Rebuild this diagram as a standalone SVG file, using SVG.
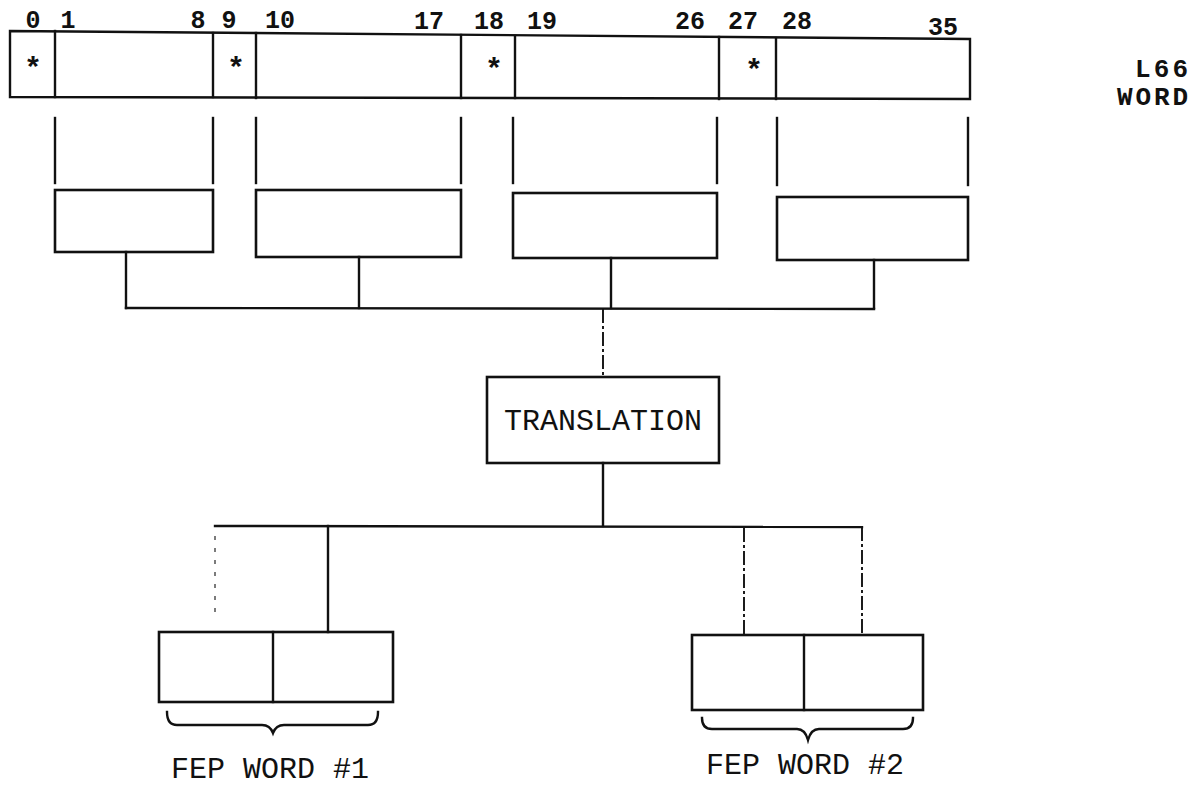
<svg xmlns="http://www.w3.org/2000/svg" width="1195" height="791" viewBox="0 0 1195 791">
<style>
.ln{stroke:#111;stroke-width:2.4;fill:none;stroke-linecap:square}
.bx{stroke:#111;stroke-width:2.6;fill:#fff}
.dash{stroke:#111;stroke-width:1.9;fill:none;stroke-dasharray:14 3 3 3}
.dot{stroke:#444;stroke-width:1.4;fill:none;stroke-dasharray:4 8}
.num{font-family:"Liberation Mono","Courier New",monospace;font-size:25px;font-weight:bold;fill:#111}
.lbl{font-family:"Liberation Mono","Courier New",monospace;font-size:30px;fill:#111}
.side{font-family:"Liberation Mono","Courier New",monospace;font-size:26px;font-weight:bold;fill:#111;text-anchor:end}
.star{font-family:"Liberation Mono","Courier New",monospace;font-size:30px;font-weight:bold;fill:#111;text-anchor:middle}
</style>
<rect width="1195" height="791" fill="#fff"/>

<g id="l66-word">
<path class="ln" d="M10,31 L970,39 L970,99 L10,97 Z"/>
<line class="ln" x1="55" y1="31" x2="55" y2="97"/>
<line class="ln" x1="213" y1="33" x2="213" y2="97"/>
<line class="ln" x1="256" y1="33" x2="256" y2="98"/>
<line class="ln" x1="461" y1="35" x2="461" y2="98"/>
<line class="ln" x1="515" y1="36" x2="515" y2="98"/>
<line class="ln" x1="719" y1="37" x2="719" y2="99"/>
<line class="ln" x1="776" y1="38" x2="776" y2="99"/>
<text class="star" x="33" y="78">*</text>
<text class="star" x="236" y="78">*</text>
<text class="star" x="494" y="79">*</text>
<text class="star" x="754" y="80">*</text>
<g class="num" text-anchor="middle">
<text x="33" y="28">0</text>
<text x="68" y="28">1</text>
<text x="198" y="28">8</text>
<text x="229" y="28">9</text>
<text x="280" y="28">10</text>
<text x="429" y="29">17</text>
<text x="489" y="29">18</text>
<text x="542" y="29">19</text>
<text x="690" y="29">26</text>
<text x="743" y="29">27</text>
<text x="797" y="29">28</text>
<text x="943" y="35">35</text>
</g>
<text class="side" x="1188" y="77" textLength="53">L66</text>
<text class="side" x="1188" y="105" textLength="71">WORD</text>
</g>

<g id="field-1"><rect class="bx" x="55" y="190" width="158" height="62"/></g>
<g id="field-2"><rect class="bx" x="256" y="190" width="205" height="67"/></g>
<g id="field-3"><rect class="bx" x="513" y="193" width="204" height="65"/></g>
<g id="field-4"><rect class="bx" x="777" y="197" width="191" height="63"/></g>

<g id="translation">
<rect class="bx" x="487" y="377" width="232" height="86"/>
<text class="lbl" x="603" y="430" text-anchor="middle">TRANSLATION</text>
</g>

<g id="fep-word-1">
<rect class="bx" x="159" y="632" width="234" height="70"/>
<line class="ln" x1="273" y1="632" x2="273" y2="702"/>
<path class="ln" d="M167,712 Q167,725 177,725 L262,725 Q270,725 273,733 Q276,725 284,725 L368,725 Q378,725 378,712"/>
<text class="lbl" x="270" y="778" text-anchor="middle">FEP WORD #1</text>
</g>

<g id="fep-word-2">
<rect class="bx" x="692" y="635" width="231" height="75"/>
<line class="ln" x1="804" y1="635" x2="804" y2="710"/>
<path class="ln" d="M702,718 Q702,729 712,729 L797,729 Q805,729 808,740 Q811,729 819,729 L903,729 Q913,729 913,718"/>
<text class="lbl" x="805" y="774" text-anchor="middle">FEP WORD #2</text>
</g>

<g id="connectors">
<line class="ln" x1="55" y1="118" x2="55" y2="183"/>
<line class="ln" x1="213" y1="118" x2="213" y2="183"/>
<line class="ln" x1="256" y1="118" x2="256" y2="183"/>
<line class="ln" x1="461" y1="118" x2="461" y2="183"/>
<line class="ln" x1="513" y1="118" x2="513" y2="183"/>
<line class="ln" x1="717" y1="118" x2="717" y2="183"/>
<line class="ln" x1="777" y1="118" x2="777" y2="185"/>
<line class="ln" x1="968" y1="118" x2="968" y2="185"/>
<line class="ln" x1="126" y1="252" x2="126" y2="308"/>
<line class="ln" x1="359" y1="257" x2="359" y2="308"/>
<line class="ln" x1="611" y1="258" x2="611" y2="308"/>
<line class="ln" x1="874" y1="260" x2="874" y2="308"/>
<line class="ln" x1="126" y1="308" x2="874" y2="309"/>
<line class="dash" x1="603" y1="309" x2="603" y2="377"/>
<line class="ln" x1="603" y1="463" x2="603" y2="526"/>
<line class="ln" x1="215" y1="526" x2="862" y2="527"/>
<line class="dot" x1="215" y1="536" x2="215" y2="620"/>
<line class="ln" x1="328" y1="526" x2="328" y2="632"/>
<line class="dash" x1="744" y1="528" x2="744" y2="635"/>
<line class="dash" x1="862" y1="527" x2="862" y2="635"/>
</g>
</svg>
